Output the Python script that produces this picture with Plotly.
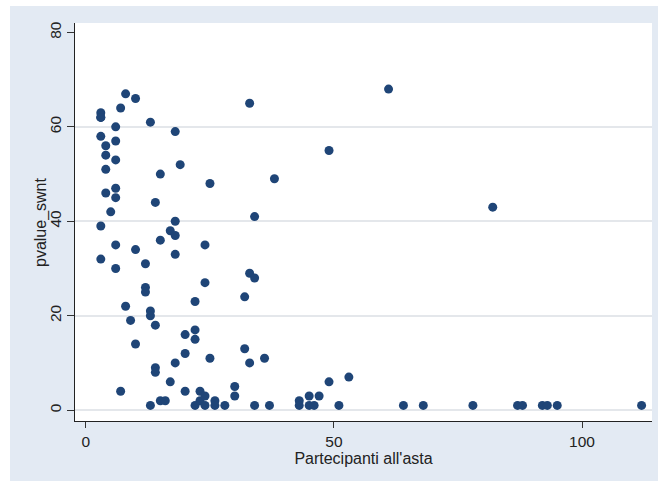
import plotly.graph_objects as go

# Data
partecipanti = [3, 3, 3, 3, 3, 3,
                4, 4, 4, 4,
                5,
                6, 6, 6, 6, 6, 6, 6,
                7, 7,
                8, 8,
                9,
                10, 10, 10,
                12, 12, 12,
                13, 13, 13, 13,
                14, 14, 14, 14,
                15, 15, 15,
                16,
                17, 17,
                18, 18, 18, 18, 18,
                19,
                20, 20, 20,
                22, 22, 22, 22,
                23, 23,
                24, 24, 24, 24,
                25, 25,
                26, 26,
                28,
                30, 30,
                32, 32,
                33, 33, 33,
                34, 34, 34,
                36, 37, 38,
                43, 43,
                45, 45,
                46, 47,
                49, 49,
                51, 53, 61, 64, 68, 78, 82,
                87, 88, 92, 93, 95, 112]
pvalue_swnt = [63, 62, 62, 58, 39, 32,
               56, 54, 51, 46,
               42,
               60, 57, 53, 47, 45, 35, 30,
               64, 4,
               67, 22,
               19,
               66, 34, 14,
               31, 26, 25,
               61, 21, 20, 1,
               44, 18, 9, 8,
               50, 36, 2,
               2,
               38, 6,
               59, 40, 37, 33, 10,
               52,
               16, 12, 4,
               23, 17, 15, 1,
               4, 2,
               35, 27, 3, 1,
               48, 11,
               2, 1,
               1,
               5, 3,
               24, 13,
               65, 29, 10,
               41, 28, 1,
               11, 1, 49,
               2, 1,
               3, 1,
               1, 3,
               55, 6,
               1, 7, 68, 1, 1, 1, 43,
               1, 1, 1, 1, 1, 1]

x_ticks = [0, 50, 100]
y_ticks = [0, 20, 40, 60, 80]
grid_y = [0, 20, 40, 60]
x_title = "Partecipanti all'asta"
y_title = "pvalue_swnt"

X_RANGE = [-2.2, 114.1]
Y_RANGE = [-2.3, 82.0]

BG = "#e3eaf3"
NAVY = "#1f4577"
FONT = "Liberation Sans, Arial, sans-serif"

fig = go.Figure()
# placeholder so the main (labelled) y axis is drawn
fig.add_trace(go.Scatter(x=[None], y=[None], yaxis="y", mode="markers",
                         showlegend=False, hoverinfo="skip"))
fig.add_trace(go.Scatter(
    x=partecipanti, y=pvalue_swnt, mode="markers",
    marker=dict(color=NAVY, size=9, line=dict(width=0)),
    yaxis="y2", showlegend=False, hoverinfo="x+y",
))

fig.update_layout(
    width=658, height=481,
    margin=dict(l=75, r=6, t=23, b=60, autoexpand=False),
    paper_bgcolor=BG, plot_bgcolor="white",
    font=dict(family=FONT, size=15, color="#222222"),
    xaxis=dict(
        range=X_RANGE, tickvals=x_ticks, ticks="outside", ticklen=6,
        tickcolor="#333333", showline=True, linecolor="#222222", linewidth=1.2,
        showgrid=False, zeroline=False, mirror=False,
        title=dict(text=x_title, standoff=4, font=dict(size=16)),
        tickfont=dict(size=15.5),
    ),
    yaxis=dict(
        range=Y_RANGE, tickvals=y_ticks, ticks="outside", ticklen=7,
        tickcolor="#333333", showline=True, linecolor="#222222", linewidth=1.2,
        showgrid=False, zeroline=False, tickangle=-90,
        tickfont=dict(size=15.5),
    ),
    yaxis2=dict(
        range=Y_RANGE, overlaying="y", tickvals=grid_y, showgrid=True,
        gridcolor="#e4e7eb", gridwidth=1.5, showticklabels=False, ticks="",
        zeroline=False, showline=False,
    ),
    annotations=[
        dict(text=y_title, textangle=-90, xref="paper", yref="paper",
             x=(41 - 75) / 577, y=0.5, xanchor="center", yanchor="middle",
             showarrow=False, font=dict(size=16)),
    ],
    shapes=[
        dict(type="rect", xref="paper", yref="paper", layer="below",
             x0=-75 / 577, x1=-65 / 577, y0=-60 / 398, y1=1 + 23 / 398,
             fillcolor="white", line=dict(width=0)),
        dict(type="rect", xref="paper", yref="paper", layer="below",
             x0=-75 / 577, x1=1 + 6 / 577, y0=1 + 17 / 398, y1=1 + 23 / 398,
             fillcolor="white", line=dict(width=0)),
    ],
)

fig.write_html(
    "out.html",
    config={"displayModeBar": False},
    post_script=("document.body.style.margin='0';document.body.style.padding='0';"
                 "document.body.style.overflow='hidden';"
                 "document.body.style.background='" + BG + "';"),
)
